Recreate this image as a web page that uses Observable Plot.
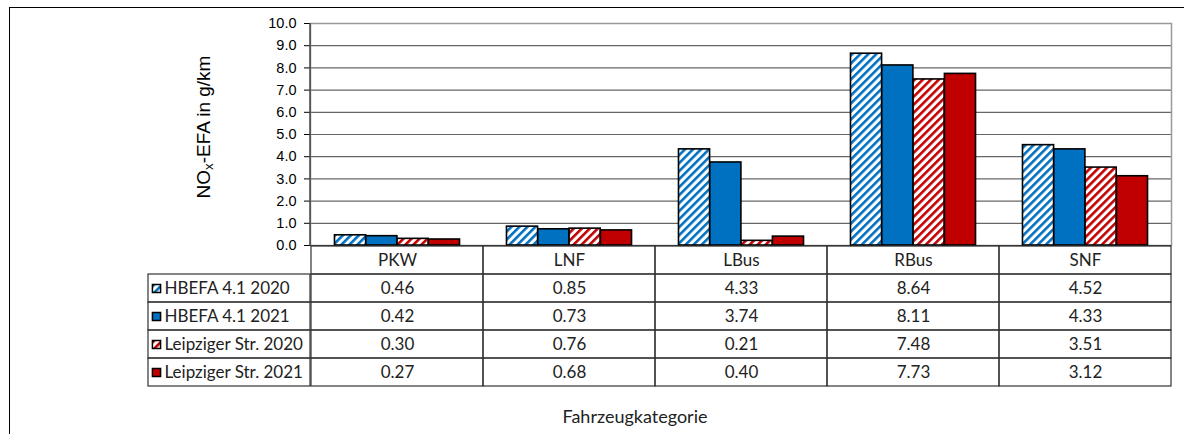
<!DOCTYPE html>
<html><head><meta charset="utf-8">
<script src="https://cdn.jsdelivr.net/npm/d3@7"></script>
<script src="https://cdn.jsdelivr.net/npm/@observablehq/plot@0.6"></script>
<style>
body{margin:0;background:#fff;}
#wrap{position:relative;width:1184px;height:434px;overflow:hidden;background:#fff;}
#border{position:absolute;left:9px;top:7px;width:1300px;height:600px;border-left:1.5px solid #000;border-top:1.5px solid #000;}
#chart{position:absolute;left:0;top:0;}
#table{position:absolute;left:0;top:245px;}
#ytitle{position:absolute;left:204px;top:127px;transform:translate(-50%,-50%) rotate(-90deg);white-space:nowrap;font-family:"Liberation Sans",Arial,sans-serif;font-size:19px;color:#000;}
#ytitle sub{font-size:0.7em;vertical-align:-0.25em;line-height:0;}
#xtitle{position:absolute;left:635px;top:416px;transform:translate(-50%,-50%);white-space:nowrap;font-family:Lato,"Open Sans",sans-serif;font-size:18px;color:#222;}
</style></head><body>
<div id="wrap">
<svg width="0" height="0" style="position:absolute"><defs>
<pattern id="hatchBlue" patternUnits="userSpaceOnUse" width="5.66" height="5.66" patternTransform="rotate(45)"><rect width="5.66" height="5.66" fill="#fff"/><rect width="2.6" height="5.66" fill="#0070C0"/></pattern>
<pattern id="hatchRed" patternUnits="userSpaceOnUse" width="5.66" height="5.66" patternTransform="rotate(45)"><rect width="5.66" height="5.66" fill="#fff"/><rect width="2.6" height="5.66" fill="#C00000"/></pattern>
</defs></svg>
<div id="border"></div>
<div id="chart"></div>
<div id="table"></div>
<div id="ytitle">NO<sub>x</sub>-EFA in g/km</div>
<div id="xtitle">Fahrzeugkategorie</div>
</div>
<script>
const categories = ["PKW", "LNF", "LBus", "RBus", "SNF"];
const series = ["HBEFA 4.1 2020", "HBEFA 4.1 2021", "Leipziger Str. 2020", "Leipziger Str. 2021"];
const hbefa2020 = [0.46, 0.85, 4.33, 8.64, 4.52];
const hbefa2021 = [0.42, 0.73, 3.74, 8.11, 4.33];
const leipzig2020 = [0.30, 0.76, 0.21, 7.48, 3.51];
const leipzig2021 = [0.27, 0.68, 0.40, 7.73, 3.12];
const seriesFills = ["url(#hatchBlue)", "#0070C0", "url(#hatchRed)", "#C00000"];
const headerKey = "Kategorie";

const seriesValues = [hbefa2020, hbefa2021, leipzig2020, leipzig2021];
const data = series.flatMap((s, i) => categories.map((c, j) => ({series: s, cat: c, value: seriesValues[i][j]})));
const rowKeys = [headerKey, ...series];
const cells = rowKeys.flatMap(r => categories.map(c => ({row: r, cat: c})));

const W = 1184, mL = 310, mR = 13;
const bw = (W - mL - mR) / categories.length;
const barW = bw / (series.length + 1.5);

const chart = Plot.plot({
  width: W, height: 246, marginTop: 23, marginBottom: 1, marginLeft: mL, marginRight: mR,
  style: {fontFamily: "'Liberation Sans', Arial, sans-serif", fontSize: "14.5px", color: "#000", background: "transparent", overflow: "visible"},
  x: {domain: categories, padding: 0, axis: null},
  y: {domain: [0, 10], ticks: 10, tickFormat: d3.format(".1f"), tickSize: 6, tickPadding: 8, label: null},
  marks: [
    Plot.ruleY(d3.range(0, 11), {stroke: "#666", strokeWidth: 1.2}),
    Plot.frame({stroke: "#999", strokeWidth: 1.5}),
    Plot.ruleY([0], {stroke: "#444", strokeWidth: 1.2}),
    ...series.map((s, i) => Plot.barY(data.filter(d => d.series === s), {
      x: "cat", y: "value", fill: seriesFills[i], stroke: "black", strokeWidth: 1.6,
      insetLeft: 0.75 * barW + i * barW, insetRight: bw - (0.75 * barW + (i + 1) * barW)
    })),
    function (index, scales, values, dims) {
      const d = dims || arguments[3];
      const line = document.createElementNS("http://www.w3.org/2000/svg", "line");
      line.setAttribute("x1", d.marginLeft); line.setAttribute("x2", d.marginLeft);
      line.setAttribute("y1", d.marginTop); line.setAttribute("y2", d.height - d.marginBottom);
      line.setAttribute("stroke", "#333"); line.setAttribute("stroke-width", "1.3");
      return line;
    }
  ]
});
document.getElementById("chart").append(chart);

const table = Plot.plot({
  width: W, height: 189, marginTop: 0, marginBottom: 47.5, marginLeft: mL, marginRight: mR,
  style: {fontFamily: "Lato, 'Open Sans', sans-serif", fontSize: "17px", color: "#222", background: "transparent", overflow: "visible"},
  x: {domain: categories, padding: 0, axis: null},
  y: {domain: rowKeys, padding: 0, axis: null},
  marks: [
    Plot.cell(cells, {x: "cat", y: "row", fill: "none", stroke: "#333", strokeWidth: 1.2}),
    Plot.cell(series, {y: d => d, fill: "none", stroke: "#333", strokeWidth: 1.2, insetLeft: -(mL - 148), insetRight: W - mL - mR}),
    Plot.text(categories, {x: d => d, y: () => headerKey, text: d => d}),
    Plot.text(data, {x: "cat", y: "series", text: d => d.value.toFixed(2)}),
    ...series.map((s, i) => Plot.dot([s], {y: d => d, frameAnchor: "left", dx: -(mL - 156), symbol: "square", r: 4.6, fill: seriesFills[i], stroke: "black", strokeWidth: 1.5})),
    Plot.text(series, {y: d => d, text: d => d, frameAnchor: "left", textAnchor: "start", dx: -(mL - 164)})
  ]
});
document.getElementById("table").append(table);
</script>
</body></html>
